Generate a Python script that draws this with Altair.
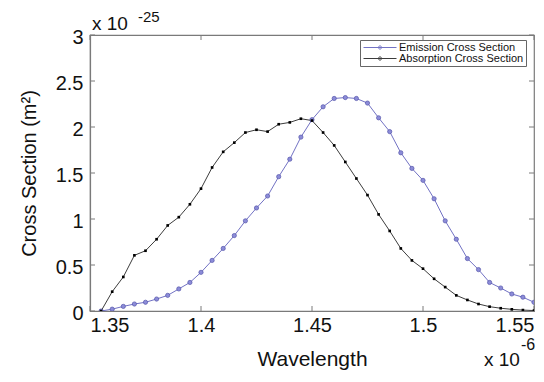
import altair as alt
import pandas as pd

wavelength = [1.355, 1.360, 1.365, 1.370, 1.375, 1.380, 1.385, 1.390, 1.395, 1.400,
              1.405, 1.410, 1.415, 1.420, 1.425, 1.430, 1.435, 1.440, 1.445, 1.450,
              1.455, 1.460, 1.465, 1.470, 1.475, 1.480, 1.485, 1.490, 1.495, 1.500,
              1.505, 1.510, 1.515, 1.520, 1.525, 1.530, 1.535, 1.540, 1.545, 1.550]
emission = [0.0, 0.02, 0.05, 0.076, 0.095, 0.13, 0.17, 0.24, 0.31, 0.42,
            0.55, 0.68, 0.82, 0.98, 1.12, 1.25, 1.46, 1.65, 1.89, 2.08,
            2.22, 2.31, 2.32, 2.31, 2.26, 2.10, 1.95, 1.72, 1.55, 1.42,
            1.22, 0.98, 0.78, 0.57, 0.45, 0.31, 0.25, 0.185, 0.15, 0.095]
absorption = [0.0, 0.21, 0.37, 0.605, 0.655, 0.78, 0.93, 1.02, 1.16, 1.33,
              1.56, 1.73, 1.83, 1.94, 1.97, 1.95, 2.03, 2.05, 2.09, 2.07,
              1.94, 1.80, 1.62, 1.44, 1.26, 1.05, 0.87, 0.68, 0.55, 0.46,
              0.35, 0.26, 0.17, 0.12, 0.076, 0.047, 0.03, 0.018, 0.01, 0.005]
series_names = ["Emission Cross Section", "Absorption Cross Section"]
x_ticks = [1.35, 1.40, 1.45, 1.50, 1.55]
y_ticks = [0, 0.5, 1, 1.5, 2, 2.5, 3]
x_exponent = ["x 10", "-6"]
y_exponent = ["x 10", "-25"]

rows = []
for w, e, a in zip(wavelength, emission, absorption):
    rows.append({"wl": w, "val": e, "series": series_names[0]})
    rows.append({"wl": w, "val": a, "series": series_names[1]})
df = pd.DataFrame(rows)

W, H = 444, 276
FONT = "Liberation Sans"
GRAY = "#7a7a7a"

x_scale = alt.Scale(domain=[1.35, 1.55], nice=False, zero=False)
y_scale = alt.Scale(domain=[0, 3], nice=False)
x_axis = alt.Axis(values=x_ticks, format="~g", title="Wavelength")
y_axis = alt.Axis(values=y_ticks, format="~g", title="Cross Section (m²)")
color_scale = alt.Scale(domain=series_names, range=["#7272c4", "#3c3c3c"])

# legend symbol: a line with a small marker in its middle
legend_path = "M-1,0H7.25M3.525,0A0.4,0.4,0,1,1,2.725,0A0.4,0.4,0,1,1,3.525,0"

base = alt.Chart(df)

lines = base.mark_line(strokeWidth=1, clip=True).encode(
    x=alt.X("wl:Q", scale=x_scale, axis=x_axis),
    y=alt.Y("val:Q", scale=y_scale, axis=y_axis),
    color=alt.Color(
        "series:N", scale=color_scale,
        legend=alt.Legend(
            title=None, orient="none", legendX=270, legendY=5,
            symbolType=legend_path, symbolSize=64, symbolStrokeWidth=1,
            labelFont=FONT, labelFontSize=11, labelColor="#111",
            strokeColor="#666", fillColor="white", padding=2,
            rowPadding=-2, labelOffset=26, labelLimit=220,
        ),
    ),
)

em_pts = base.transform_filter(alt.datum.series == series_names[0]).mark_point(
    shape="circle", size=18, filled=True, fill="#8c8cd8", stroke="#5555aa",
    strokeWidth=0.7, opacity=1, clip=True,
).encode(
    x=alt.X("wl:Q", scale=x_scale, axis=x_axis),
    y=alt.Y("val:Q", scale=y_scale, axis=y_axis),
)

ab_pts = base.transform_filter(alt.datum.series == series_names[1]).mark_point(
    shape="square", size=7, filled=True, color="#000000", opacity=1, clip=True,
).encode(
    x=alt.X("wl:Q", scale=x_scale, axis=x_axis),
    y=alt.Y("val:Q", scale=y_scale, axis=y_axis),
)

xt = alt.Chart(pd.DataFrame({"wl": x_ticks}))
yt = alt.Chart(pd.DataFrame({"val": y_ticks}))
tick_bottom = xt.mark_rule(color=GRAY, strokeWidth=1).encode(
    x=alt.X("wl:Q", scale=x_scale, axis=x_axis), y=alt.value(H), y2=alt.value(H - 5))
tick_top = xt.mark_rule(color=GRAY, strokeWidth=1).encode(
    x=alt.X("wl:Q", scale=x_scale, axis=x_axis), y=alt.value(0), y2=alt.value(5))
tick_left = yt.mark_rule(color=GRAY, strokeWidth=1).encode(
    y=alt.Y("val:Q", scale=y_scale, axis=y_axis), x=alt.value(0), x2=alt.value(5))
tick_right = yt.mark_rule(color=GRAY, strokeWidth=1).encode(
    y=alt.Y("val:Q", scale=y_scale, axis=y_axis), x=alt.value(W - 5), x2=alt.value(W))

def txt(s, x, y, size):
    return alt.Chart(pd.DataFrame({"t": [s]})).mark_text(
        font=FONT, fontSize=size, align="left", baseline="alphabetic", color="#111"
    ).encode(text="t:N", x=alt.value(x), y=alt.value(y))

ex_y1 = txt(y_exponent[0], 2, -5, 19)
ex_y2 = txt(y_exponent[1], 48, -13, 15)
ex_x1 = txt(x_exponent[0], 394, 331, 19)
ex_x2 = txt(x_exponent[1], 431, 315, 16)

chart = alt.layer(
    tick_bottom, tick_top, tick_left, tick_right,
    lines, em_pts, ab_pts, ex_y1, ex_y2, ex_x1, ex_x2,
).properties(
    width=W, height=H,
    autosize=alt.AutoSizeParams(type="none"),
    padding={"left": 82, "top": 27, "right": 2, "bottom": 60},
).configure_view(
    stroke=GRAY, strokeWidth=1.2,
).configure_axis(
    tickSize=0, domainColor=GRAY, domainWidth=1.2, grid=False,
    labelFont=FONT, labelFontSize=20, labelColor="#111",
    titleFont=FONT, titleFontWeight="normal", titleColor="#111",
).configure_axisX(
    labelPadding=4, titlePadding=13, titleFontSize=21,
).configure_axisY(
    labelPadding=7, titlePadding=16, titleFontSize=20, labelFlush=False, labelOffset=2,
)

chart.save("out.html", embed_options={"renderer": "svg", "actions": False})
